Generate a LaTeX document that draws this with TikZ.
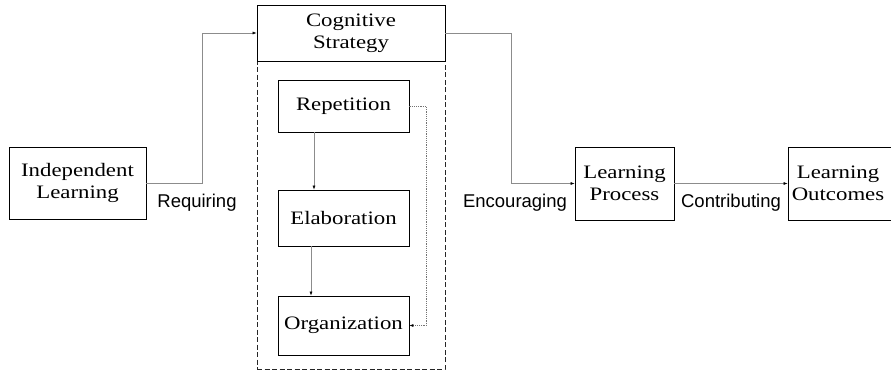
\documentclass[tikz,border=0pt]{standalone}
\usepackage{fontspec}
\setmainfont{Liberation Serif}[FakeStretch=1.2]
\newfontfamily\lblfont{Liberation Sans}
\usetikzlibrary{arrows.meta}
\begin{document}
\begin{tikzpicture}[x=1pt,y=-1pt,
  box/.style={draw=black, line width=0.8pt, align=center, inner sep=0pt,
    font=\fontsize{19}{22}\selectfont},
  conn/.style={draw=black!45, line width=0.6pt, -{Latex[length=4pt,width=3pt,fill=black,color=black]}},
  lbl/.style={font=\lblfont\fontsize{18.5}{21}\selectfont, inner sep=0pt},
  dotconn/.style={draw=black!55, line width=0.6pt, dash pattern=on 1.2pt off 1pt, -{Latex[length=4pt,width=3pt,fill=black,color=black]}}]
\useasboundingbox (0,0) rectangle (891,372);
\node[box, minimum width=137, minimum height=72] (il) at (77.5,183) {Independent\\Learning};
\node[draw=black!85, line width=0.9pt, dash pattern=on 5pt off 2.5pt, minimum width=188, minimum height=308, inner sep=0pt] (csbox) at (351,215) {};
\node[box, minimum width=188, minimum height=56] (csh) at (351,33) {Cognitive\\Strategy};
\node[box, minimum width=131, minimum height=52] (rep) at (343.5,106) {Repetition};
\node[box, minimum width=131, minimum height=56] (elab) at (343.5,218) {Elaboration};
\node[box, minimum width=131, minimum height=59] (org) at (343.5,325.5) {Organization};
\node[box, minimum width=99, minimum height=73] (lp) at (624.5,183.5) {Learning\\Process};
\node[box, minimum width=106, minimum height=73] (lo) at (841,183.5) {};
\node[font=\fontsize{19}{22}\selectfont, align=center, inner sep=0pt] (lot) at (838,183.5) {Learning\\Outcomes};
\coordinate (k1) at (202,183);
\coordinate (k2) at (511,33);
\coordinate (k3) at (426,106);
\draw[conn] (il.east) -| (k1 |- csh.west) -- (csh.west);
\draw[conn] (csh.east) -| (k2 |- lp.west) -- (lp.west);
\draw[conn] (lp.east) -- (lo.west);
\draw[conn] (rep.south -| 314,0) -- (elab.north -| 314,0);
\draw[conn] (elab.south -| 311,0) -- (org.north -| 311,0);
\draw[dotconn] (rep.east) -- (k3) |- (org.east);
\node[lbl] (req) at (197,203) {Requiring};
\node[lbl] (enc) at (515,203) {Encouraging};
\node[lbl] (con) at (731,203) {Contributing};
\end{tikzpicture}
\end{document}
